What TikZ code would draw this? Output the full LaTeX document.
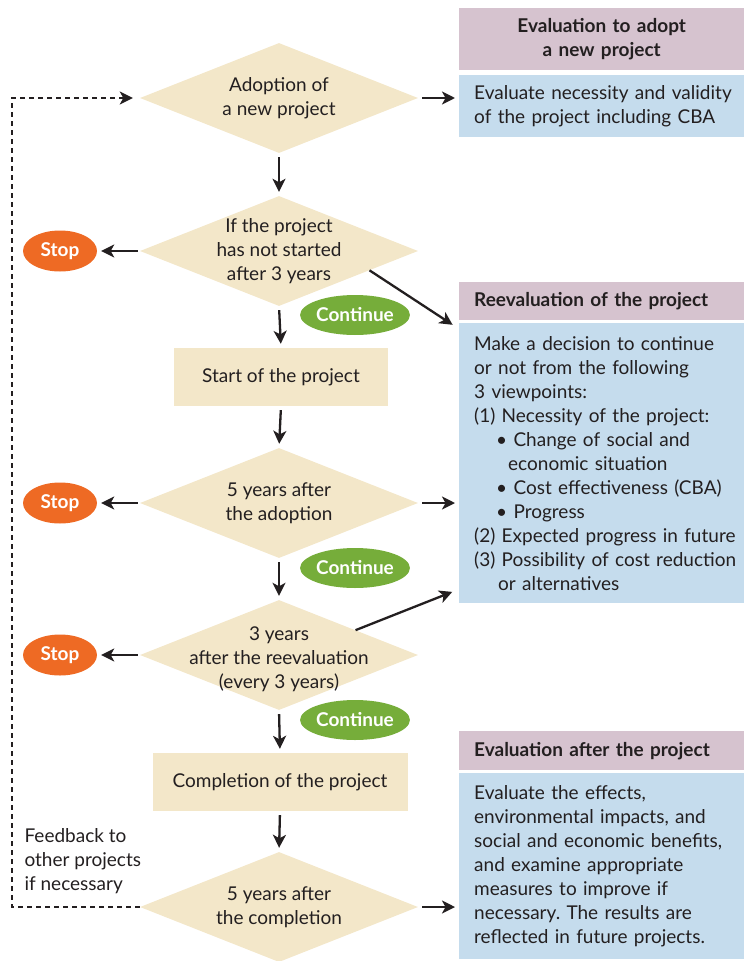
\documentclass[tikz,border=0pt]{standalone}
\usepackage{fontspec}
\setmainfont{Lato}
\usetikzlibrary{shapes.geometric,arrows.meta,calc}
\frenchspacing

\definecolor{ink}{HTML}{231F20}
\definecolor{sand}{HTML}{F3E7C9}
\definecolor{stoporange}{HTML}{EE6A24}
\definecolor{gogreen}{HTML}{76AD3A}
\definecolor{headpink}{HTML}{D6C3CF}
\definecolor{bodyblue}{HTML}{C5DCED}

\begin{document}
\begin{tikzpicture}[x=1pt,y=-1pt,
  every node/.style={text=ink,font=\fontsize{19}{24}\selectfont},
  dia/.style={diamond,fill=sand,minimum width=278pt,minimum height=110pt,inner sep=0pt},
  stepbox/.style={rectangle,fill=sand,minimum height=58pt,inner sep=0pt},
  stopnode/.style={ellipse,fill=stoporange,minimum width=74pt,minimum height=41pt,inner sep=0pt,
    text=white,font=\fontsize{19}{24}\selectfont\bfseries},
  contnode/.style={ellipse,fill=gogreen,minimum width=102pt,minimum height=40pt,inner sep=0pt,
    text=white,font=\fontsize{19}{24}\selectfont\bfseries},
  hdr/.style={rectangle,fill=headpink,anchor=north west,minimum width=285pt,inner xsep=15pt,
    inner ysep=0pt,align=left,font=\fontsize{19}{24}\selectfont\bfseries},
  bodybox/.style={rectangle,fill=bodyblue,anchor=north west,minimum width=285pt,text width=268pt,
    inner xsep=15pt,inner ysep=0pt,align=left},
  arr/.style={draw=ink,line width=2.3pt,-{Stealth[length=13pt,width=13pt,inset=3.5pt]},
    shorten <=4pt,shorten >=4pt},
  dashline/.style={draw=ink,line width=2.5pt,dash pattern=on 5pt off 4pt,
    -{Stealth[length=13pt,width=13pt,inset=3.5pt]},shorten >=7pt}]
\useasboundingbox (0,0) rectangle (744,961);

% flow on the left
\node[dia,label={[align=center]center:{Adoption of\\a new project}}] (adopt) at (279,98) {};
\node[dia,label={[align=center]center:{If the project\\has not started\\after 3 years}}] (notstarted) at (279,251) {};
\node[stepbox,minimum width=214pt] (start) at (281,377) {Start of the project};
\node[dia,label={[align=center]center:{5 years after\\the adoption}}] (fiveadopt) at (279,503) {};
\node[dia,label={[align=center,yshift=-4pt]center:{3 years\\after the reevaluation\\(every 3 years)}}] (threere) at (279,655) {};
\node[stepbox,minimum width=255pt] (complete) at (280,782) {Completion of the project};
\node[dia,label={[align=center]center:{5 years after\\the completion}}] (fivecomp) at (279,907) {};

\node[stopnode] (stop1) at (60,251) {Stop};
\node[stopnode] (stop2) at (60,503) {Stop};
\node[stopnode] (stop3) at (60,655) {Stop};
\node[contnode] (cont1) at (355,315) {Continue};
\node[contnode] (cont2) at (355,568) {Continue};
\node[contnode] (cont3) at (355,720) {Continue};

\node[anchor=west,align=left] (feedback) at (21,861) {Feedback to\\other projects\\if necessary};

% evaluation boxes on the right
\node[hdr,minimum height=62pt,text width=238pt,align=center] (hdrA) at (459,8) {Evaluation to adopt\\a new project};
\node[bodybox,minimum height=62pt] (evalA) at (459,75) {Evaluate necessity and validity\\of the project including CBA};
\node[hdr,minimum height=38pt,text width=255pt] (hdrB) at (459,282) {Reevaluation of the project};
\node[bodybox,minimum height=280pt] (evalB) at (459,323) {Make a decision to continue\\
  or not from the following\\
  3 viewpoints:\\
  (1) Necessity of the project:\\
  \hspace*{22pt}\textbullet\ Change of social and\\
  \hspace*{34pt}economic situation\\
  \hspace*{22pt}\textbullet\ Cost effectiveness (CBA)\\
  \hspace*{22pt}\textbullet\ Progress\\
  (2) Expected progress in future\\
  (3) Possibility of cost reduction\\
  \hspace*{24pt}or alternatives};
\node[hdr,minimum height=39pt,text width=255pt] (hdrC) at (459,731) {Evaluation after the project};
\node[bodybox,minimum height=186pt] (evalC) at (459,773) {Evaluate the effects,\\
  environmental impacts, and\\
  social and economic benefits,\\
  and examine appropriate\\
  measures to improve if\\
  necessary. The results are\\
  reflected in future projects.};

% arrows
\draw[arr] (adopt.south) -- (notstarted.north);
\draw[arr] (notstarted.south) -- (start.north);
\draw[arr] (start.south) -- (fiveadopt.north);
\draw[arr] (fiveadopt.south) -- (threere.north);
\draw[arr] (threere.south) -- (complete.north);
\draw[arr] (complete.south) -- (fivecomp.north);

\draw[arr,shorten <=2pt] (notstarted.west) -- (stop1.east);
\draw[arr,shorten <=2pt] (fiveadopt.west) -- (stop2.east);
\draw[arr,shorten <=2pt] (threere.west) -- (stop3.east);

\draw[arr] (adopt.east) -- (adopt.east -| evalA.west);
\draw[arr] (fiveadopt.east) -- (fiveadopt.east -| evalB.west);
\draw[arr] (fivecomp.east) -- (fivecomp.east -| evalC.west);
\draw[arr,shorten <=0pt] ($(notstarted.east)!0.35!(notstarted.south)$) -- ([xshift=-3pt,yshift=-4pt]evalB.north west);
\draw[arr,shorten <=0pt] ($(threere.north)!0.55!(threere.east)$) -- ([xshift=-3pt,yshift=13pt]evalB.south west);

% feedback loop
\coordinate (fbbot) at (12,907);
\draw[dashline] (fivecomp.west) -- (fbbot) |- (adopt.west);
\end{tikzpicture}
\end{document}
